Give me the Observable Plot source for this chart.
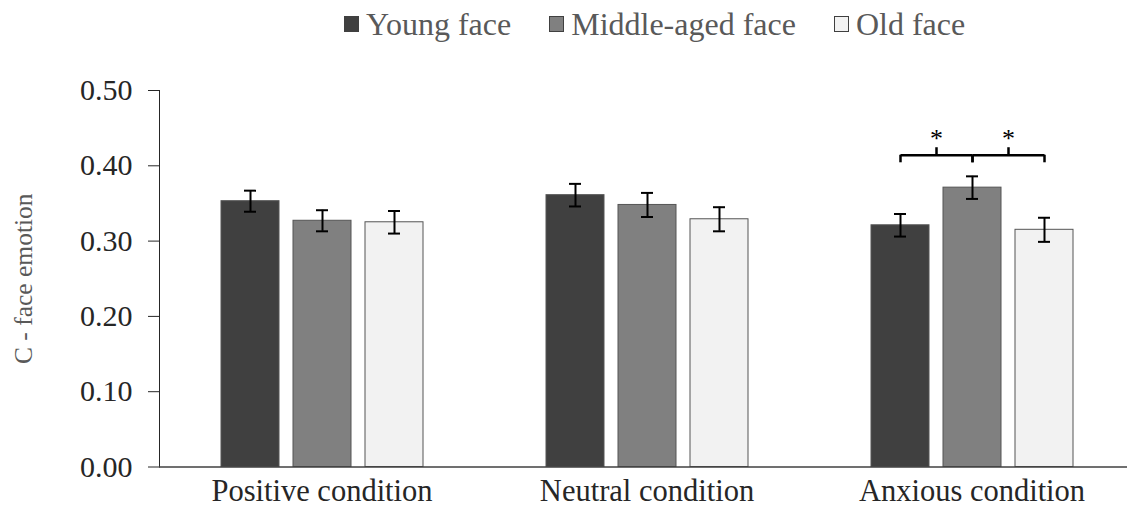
<!DOCTYPE html>
<html>
<head>
<meta charset="utf-8">
<script src="https://cdn.jsdelivr.net/npm/d3@7"></script>
<script src="https://cdn.jsdelivr.net/npm/@observablehq/plot@0.6"></script>
<style>
  body { margin: 0; background: #fff; width: 1127px; height: 508px; overflow: hidden; font-family: "Liberation Serif", "Times New Roman", serif; }
  #legend { height: 48px; display: flex; align-items: center; padding-left: 344px; font-size: 32px; color: #595959; box-sizing: border-box; }
  #legend .item { display: flex; align-items: center; margin-right: 38px; }
  #legend .sw { width: 15px; height: 16px; border: 1px solid #404040; box-sizing: border-box; margin-right: 7px; }
  g[aria-label="y-axis tick label"] { font-size: 30px; fill: #262626; }
  g[aria-label="y-axis label"] { font-size: 25.5px; fill: #595959; }
  g[aria-label="fx-axis tick label"] { font-size: 30.5px; fill: #262626; }
</style>
</head>
<body>
<div id="legend"></div>
<div id="chart"></div>
<script>
// ---- data ----
const conditions = ["Positive condition", "Neutral condition", "Anxious condition"];
const faces = ["Young face", "Middle-aged face", "Old face"];
const faceColors = ["#404040", "#808080", "#f2f2f2"];

const youngMeans  = [0.353, 0.361, 0.321];
const middleMeans = [0.327, 0.348, 0.371];
const oldMeans    = [0.325, 0.329, 0.315];
const youngErr  = [0.014, 0.015, 0.015];
const middleErr = [0.014, 0.016, 0.015];
const oldErr    = [0.015, 0.016, 0.016];

const yTicks = [0, 0.1, 0.2, 0.3, 0.4, 0.5];

// significance brackets (Anxious condition)
const sigCondition = ["Anxious condition", "Anxious condition"];
const sigFrom = ["Young face", "Middle-aged face"];
const sigTo = ["Middle-aged face", "Old face"];
const sigLabel = ["*", "*"];
const bracketLevel = 0.414, bracketEnd = 0.404, bracketTip = 0.424, starLevel = 0.436;

// ---- build table ----
const meansByFace = [youngMeans, middleMeans, oldMeans];
const errByFace = [youngErr, middleErr, oldErr];
const rows = [];
conditions.forEach((c, ci) => faces.forEach((f, fi) => {
  rows.push({condition: c, face: f, mean: meansByFace[fi][ci], err: errByFace[fi][ci]});
}));
const sig = sigFrom.map((f, i) => ({condition: sigCondition[i], from: f, to: sigTo[i], label: sigLabel[i]}));

// ---- legend ----
const legend = document.getElementById("legend");
faces.forEach((f, i) => {
  const item = document.createElement("div");
  item.className = "item";
  const sw = document.createElement("div");
  sw.className = "sw";
  sw.style.background = faceColors[i];
  const t = document.createElement("span");
  t.textContent = f;
  item.append(sw, t);
  legend.append(item);
});

// ---- chart ----
const chart = Plot.plot({
  width: 1127,
  height: 460,
  marginLeft: 158,
  marginRight: 0,
  marginTop: 42,
  marginBottom: 41.5,
  style: {fontFamily: "Liberation Serif, Times New Roman, serif", background: "#fff", color: "#262626", overflow: "visible"},
  fx: {domain: conditions, range: [158.5, 1133.5], padding: 0, label: null, axis: "bottom", tickSize: 0, tickPadding: 12},
  x: {domain: faces, paddingInner: 0.2, paddingOuter: 0.84, axis: null},
  y: {domain: [0, 0.5], ticks: yTicks, tickFormat: ".2f", tickSize: 11, tickPadding: 16, line: true,
      label: "C - face emotion", labelAnchor: "center", labelArrow: "none", labelOffset: 146},
  color: {domain: faces, range: faceColors},
  marks: [
    Plot.barY(rows, {fx: "condition", x: "face", y: "mean", fill: "face", stroke: "#555", strokeWidth: 1}),
    Plot.ruleX(rows, {fx: "condition", x: "face", y1: d => d.mean - d.err, y2: d => d.mean + d.err, stroke: "#000", strokeWidth: 2}),
    Plot.tickY(rows, {fx: "condition", x: "face", y: d => d.mean - d.err, stroke: "#000", strokeWidth: 2, insetLeft: 23, insetRight: 23}),
    Plot.tickY(rows, {fx: "condition", x: "face", y: d => d.mean + d.err, stroke: "#000", strokeWidth: 2, insetLeft: 23, insetRight: 23}),
    Plot.ruleY([0], {stroke: "#404040", strokeWidth: 1.5}),
    Plot.link(sig, {fx: "condition", x1: "from", x2: "to", y1: () => bracketLevel, y2: () => bracketLevel, stroke: "#000", strokeWidth: 2.5}),
    Plot.ruleX(sig, {fx: "condition", x: "from", y1: () => bracketEnd, y2: () => bracketLevel, stroke: "#000", strokeWidth: 2.5}),
    Plot.ruleX(sig, {fx: "condition", x: "to", y1: () => bracketEnd, y2: () => bracketLevel, stroke: "#000", strokeWidth: 2.5}),
    Plot.ruleX(sig, {fx: "condition", x: "from", dx: 36, y1: () => bracketLevel, y2: () => bracketTip, stroke: "#000", strokeWidth: 2.5}),
    Plot.text(sig, {fx: "condition", x: "from", dx: 36, y: () => starLevel, text: "label", fontSize: 26, fill: "#000"})
  ]
});
document.getElementById("chart").append(chart);
</script>
</body>
</html>
